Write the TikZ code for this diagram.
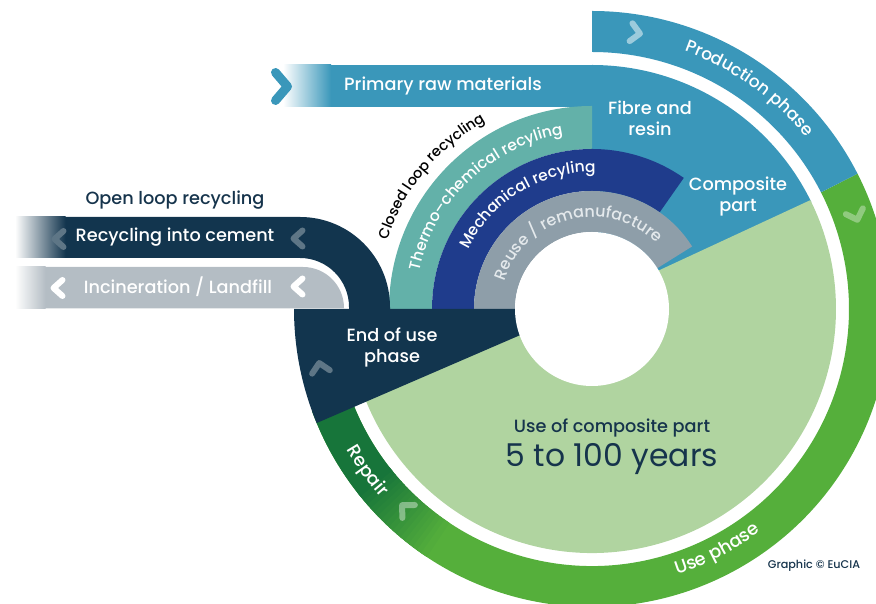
\documentclass[tikz,border=0pt]{standalone}
\usepackage{fontspec}
\setmainfont{Poppins}
\newfontfamily\pmed{Poppins Medium}
\usetikzlibrary{decorations.text}
\definecolor{cprod}{HTML}{3A97BA}
\definecolor{cteal}{HTML}{63B1A9}
\definecolor{cmech}{HTML}{1F3C8C}
\definecolor{creuse}{HTML}{8E9EA9}
\definecolor{cnavy}{HTML}{12354E}
\definecolor{cincin}{HTML}{B4BDC4}
\definecolor{clgreen}{HTML}{B0D4A0}
\definecolor{cgreen}{HTML}{55AF3B}
\definecolor{cdkgreen}{HTML}{17753A}
\definecolor{ctext}{HTML}{16344C}
\definecolor{cchev}{HTML}{5E7686}
\definecolor{creusetxt}{HTML}{E4E9EC}
\newcommand\annseg[4]{([shift={(#1:#4)}]C) arc[start angle=#1,end angle=#2,radius=#4] -- ([shift={(#2:#3)}]C) arc[start angle=#2,end angle=#1,radius=#3] -- cycle}
\begin{document}
\begin{tikzpicture}[x=1pt,y=1pt,
  chev/.style={line width=6pt,line cap=round,line join=round},
  lbl/.style={text=white,font=\pmed\fontsize{17.7}{21}\selectfont,align=center,inner sep=0pt}]
\useasboundingbox (0,0) rectangle (876,604);
\coordinate (C) at (592,295);
% use ring
\fill[cgreen] \annseg{27}{-160}{257}{298};
\fill[cdkgreen] \annseg{-160}{-141}{257}{298};
\foreach \i in {0,...,17}{
  \pgfmathsetmacro\p{100-\i*100/18}
  \pgfmathsetmacro\a{-142+\i}
  \pgfmathsetmacro\b{-140.7+\i}
  \fill[cdkgreen!\p!cgreen] \annseg{\a}{\b}{257}{298};
}
% production ring
\fill[cprod] \annseg{90}{27}{257}{298};
% blue sector and primary band
\fill[cprod] (C) -- ([shift={(26:244)}]C) arc[start angle=26,end angle=90,radius=244] -- cycle;
\fill[cprod] (330,497) rectangle (592.5,539);
\shade[left color=white,right color=cprod] (283,497) rectangle (331,539);
% recycling rings
\fill[cteal] \annseg{180}{90}{160}{203};
\fill[cmech] \annseg{180}{55}{118}{160};
\fill[creuse] \annseg{180}{32}{77}{118};
% light green
\fill[clgreen] ([shift={(195:244)}]C) arc[start angle=195,end angle=386.5,radius=244] -- ([shift={(30:77)}]C) -- (C) -- cycle;
% navy end of use + cement band
\fill[cnavy] (65,387) -- (300,387) arc[start angle=90,end angle=0,radius=90] -- (390,295) -- (C) -- ([shift={(200:77)}]C) -- ([shift={(202.5:298)}]C) arc[start angle=202.5,end angle=180,radius=298] -- (349,295) -- (349,297) arc[start angle=0,end angle=90,radius=49] -- (65,346) -- cycle;
\shade[left color=white,right color=cnavy] (15,346) rectangle (65.5,387);
% incineration band
\fill[cincin] (45,295.5) -- (45,337) -- (303,337) arc[start angle=90,end angle=0,radius=41] -- (344,295.5) -- cycle;
\shade[left color=white,right color=cincin] (15,295.5) rectangle (45.5,337);
% hole
\fill[white] (C) circle[radius=77];

% arc texts
\path[decorate,decoration={text along path,text align=center,text color=white,text={|\pmed\fontsize{17}{20}\selectfont|Production phase}}] ([shift={(85:274)}]C) arc[start angle=85,end angle=24,radius=274];
\path[decorate,decoration={text along path,text align=center,text color=white,text={|\pmed\fontsize{18}{20}\selectfont|Use phase}}] ([shift={(-95:279)}]C) arc[start angle=-95,end angle=-30,radius=279];
\path[decorate,decoration={text along path,text align=center,text color=white,text={|\pmed\fontsize{18}{20}\selectfont|Repair}}] ([shift={(193:283)}]C) arc[start angle=193,end angle=238.6,radius=283];
\path[decorate,decoration={text along path,text align=center,text color=black,text={|\pmed\fontsize{14.5}{18}\selectfont|Closed loop recycling}}] ([shift={(175:216)}]C) arc[start angle=175,end angle=106,radius=216];
\path[decorate,decoration={text along path,text align=center,text color=white,text={|\pmed\fontsize{15.5}{18}\selectfont|Thermo–chemical recyling}}] ([shift={(178:177)}]C) arc[start angle=178,end angle=89,radius=177];
\path[decorate,decoration={text along path,text align=center,text color=white,text={|\pmed\fontsize{15.5}{18}\selectfont|Mechanical recyling}}] ([shift={(175:137)}]C) arc[start angle=175,end angle=68,radius=137];
\path[decorate,decoration={text along path,text align=center,text color=creusetxt,text={|\pmed\fontsize{16}{18}\selectfont|Reuse / remanufacture}}] ([shift={(175:92)}]C) arc[start angle=175,end angle=33,radius=92];

% straight labels
\node[lbl] (prim) at (443,518) {Primary raw materials};
\node[lbl] (fibre) at (650,486) {Fibre and\\resin};
\node[lbl] (comp) at (738,407) {Composite\\part};
\node[lbl] (eou) at (392,257) {End of use\\phase};
\node[lbl,text=ctext] (usecp) at (612,176) {Use of composite part};
\node[text=ctext,font=\fontsize{31.4}{36}\selectfont,inner sep=0pt] (years) at (612,145) {5 to 100 years};
\node[lbl,text=ctext] (open) at (175,404) {Open loop recycling};
\node[lbl] (cement) at (175,367) {Recycling into cement};
\node[lbl] (incin) at (178,317) {Incineration / Landfill};
\node[text=ctext,font=\pmed\fontsize{11.2}{13}\selectfont,inner sep=0pt] (copy) at (814,38) {Graphic © EuCIA};

% chevrons
\draw[chev,cprod,line width=9pt,shift={(281.5,517.5)}] (-6,14) -- (6,0) -- (-6,-14);
\draw[chev,white,opacity=.5,shift={(636,571)},rotate=-9] (-5,9) -- (4,0) -- (-5,-9);
\draw[chev,white,opacity=.35,shift={(856,388)},rotate=-71] (-5,9) -- (4,0) -- (-5,-9);
\draw[chev,white,opacity=.4,shift={(405,96)},rotate=136] (-5,9) -- (4,0) -- (-5,-9);
\draw[chev,cchev,shift={(320,237)},rotate=101] (-5,9) -- (4,0) -- (-5,-9);
\draw[chev,cchev,shift={(58.5,365)}] (5,8) -- (-4,0) -- (5,-8);
\draw[chev,cchev,shift={(297.5,365.5)}] (5,8) -- (-4,0) -- (5,-8);
\draw[chev,white,shift={(57.5,316)}] (5,8) -- (-4,0) -- (5,-8);
\draw[chev,white,shift={(297.5,317.5)}] (5,8) -- (-4,0) -- (5,-8);
\end{tikzpicture}
\end{document}
